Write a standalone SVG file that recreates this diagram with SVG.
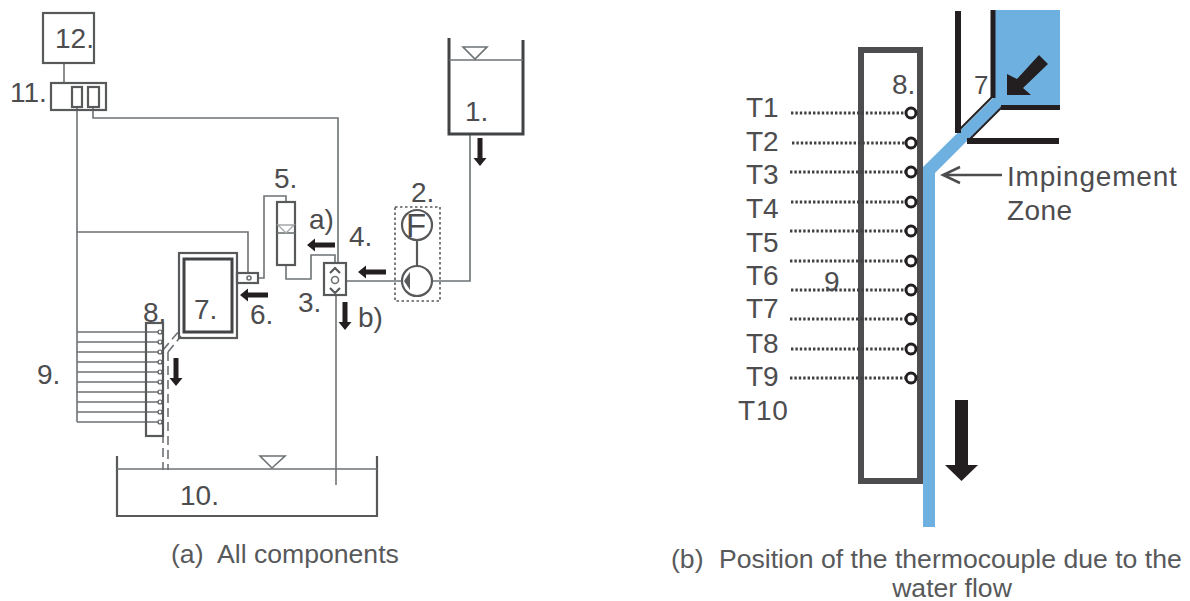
<svg xmlns="http://www.w3.org/2000/svg" width="1190" height="601" viewBox="0 0 1190 601">
<style>
text{font-family:"Liberation Sans",Arial,sans-serif;fill:#4d4d4f}
.l{font-size:28px}
.t{font-size:28px}
.c{font-size:26.600px;fill:#58595b}
.w{fill:none;stroke:#6d7274;stroke-width:1.600}
.b{fill:none;stroke:#58595b;stroke-width:2.200}
.k{fill:none;stroke:#414345;stroke-width:3}
.n{fill:none;stroke:#231f20}
.d{fill:none;stroke:#6d7274;stroke-width:1.600;stroke-dasharray:9 5}
.dot{fill:none;stroke:#414042;stroke-width:2.800;stroke-dasharray:2.400 2}
.tc{fill:#fff;stroke:#231f20;stroke-width:3}
.a{fill:#231f20}
</style>
<defs>
<path id="dn" class="a" d="M-2.500,0H2.500V20H6.500L0,28L-6.500,20H-2.500Z"/>
<path id="lf" class="a" d="M0,0L8,-6.500V-2.500H28V2.500H8V6.500Z"/>
</defs>
<g id="connectors">
<path class="w" d="M64,63V83"/>
<path class="w" d="M77,107V422"/>
<path class="w" d="M93,107V118H338V263"/>
<path class="w" d="M77,232H248V273"/>
<path class="w" d="M258,278H264V196H286V202"/>
<path class="w" d="M286,265V279H311V255H335V263"/>
<path class="w" d="M336,295V485"/>
<path class="w" d="M346,281H402"/>
<path class="w" d="M432,281H470V134"/>
<path class="w" d="M77,332H160M77,342H160M77,352H160M77,362H160M77,372H160M77,382H160M77,392H160M77,402H160M77,412H160M77,422H160"/>
<path class="d" d="M163,350L179,331"/>
<path class="d" d="M168,352L181,336"/>
<path class="d" d="M163,350V470"/>
<path class="d" d="M168,352V470"/>
<use href="#dn" x="480" y="138"/>
<use href="#lf" x="307" y="245"/>
<use href="#lf" x="358" y="272"/>
<use href="#dn" x="345" y="302"/>
<use href="#lf" x="240" y="295"/>
<use href="#dn" x="176" y="358"/>
</g>
<g id="node-12"><rect class="b" x="43" y="13" width="51" height="50"/><text class="l" x="55" y="48">12.</text></g>
<g id="node-11"><rect class="b" x="51" y="83" width="55" height="27"/><rect class="b" x="72" y="87" width="10" height="20"/><rect class="b" x="88" y="87" width="11" height="20"/><text class="l" x="10" y="102">11.</text></g>
<g id="node-1"><path class="k" d="M449,38V134H523V40"/><path class="w" d="M449,60H523"/><path class="w" d="M463,47H487L475,59Z"/><text class="l" x="465" y="121">1.</text></g>
<g id="node-2"><rect x="395" y="207" width="45" height="94" fill="none" stroke="#58595b" stroke-width="1.600" stroke-dasharray="2.500 2.500"/><circle class="b" cx="417" cy="225" r="15"/><text x="406" y="237" style="font-size:33px">F</text><path class="b" d="M417,240V266"/><circle class="b" cx="417" cy="281" r="15"/><path d="M404,281L410,272V290Z" fill="#58595b"/><text class="l" x="411" y="202">2.</text></g>
<g id="node-3"><rect class="b" x="324" y="263" width="22" height="32"/><circle class="w" cx="335" cy="280" r="3.500"/><path class="b" d="M330,273L335,268L340,273M330,288L335,293L340,288"/><text class="l" x="298" y="312">3.</text></g>
<g id="node-4"><text class="l" x="349" y="246">4.</text></g>
<g id="node-5"><rect class="b" x="277" y="202" width="18" height="63"/><path class="w" d="M277,233H295"/><path d="M278,225H294L286,233Z" fill="none" stroke="#a5a7a8" stroke-width="1.400"/><text class="l" x="274" y="188">5.</text></g>
<g id="node-6"><rect class="b" x="237" y="273" width="21" height="10"/><circle class="w" cx="249" cy="278" r="2"/><text class="l" x="250" y="324">6.</text></g>
<g id="node-7"><rect class="b" x="179" y="253" width="58" height="85"/><rect class="k" x="184" y="259" width="48" height="73"/><text class="l" x="194" y="319">7.</text></g>
<g id="node-8"><rect class="b" x="146" y="323" width="17" height="113"/><g fill="#fff" stroke="#58595b" stroke-width="1.200"><circle cx="160" cy="332" r="2"/><circle cx="160" cy="342" r="2"/><circle cx="160" cy="352" r="2"/><circle cx="160" cy="362" r="2"/><circle cx="160" cy="372" r="2"/><circle cx="160" cy="382" r="2"/><circle cx="160" cy="392" r="2"/><circle cx="160" cy="402" r="2"/><circle cx="160" cy="412" r="2"/><circle cx="160" cy="422" r="2"/></g><text class="l" x="143" y="322">8.</text></g>
<g id="node-9"><text class="l" x="37" y="384">9.</text></g>
<g id="node-10"><path class="b" d="M117,456V516H377V456"/><path class="w" d="M117,469H377"/><path class="w" d="M260,456H285L272,468Z"/><text class="l" x="180" y="505">10.</text></g>
<text class="l" x="309" y="229">a)</text>
<text class="l" x="358" y="327">b)</text>
<text class="c" y="563"><tspan x="171">(a)</tspan><tspan x="217">All components</tspan></text>
<g id="channel">
<path fill="#6eb1e1" d="M995,10H1060V107H1001L935,173V527H923V167L995,96Z"/>
<path class="n" stroke-width="6" d="M958,11V133"/>
<path class="n" stroke-width="2" d="M958,131L993,96"/>
<path class="n" stroke-width="5" d="M993,10V98"/>
<path class="n" stroke-width="2" d="M968,141L1002,107"/>
<path class="n" stroke-width="5" d="M1001,107.500H1060"/>
<path class="n" stroke-width="6" d="M967,141H1059"/>
<path class="a" d="M1039,55L1048,64L1023,88L1031,95H1007V74L1017,79Z"/>
<text x="974" y="94" style="font-size:26px">7</text>
</g>
<g id="plate"><rect x="861" y="50" width="59" height="431" fill="none" stroke="#4d4d4f" stroke-width="6"/><text class="l" x="892" y="94">8.</text></g>
<g id="thermocouples">
<path class="dot" d="M791,113H905M792,143H905M790,172H905M791,202H905M790,231H905M790,261H905M791,290H905M790,319H905M791,349H905M790,378H905"/>
<circle class="tc" cx="911" cy="113" r="5"/><circle class="tc" cx="911" cy="143" r="5"/><circle class="tc" cx="911" cy="172" r="5"/><circle class="tc" cx="911" cy="202" r="5"/><circle class="tc" cx="911" cy="231" r="5"/><circle class="tc" cx="911" cy="261" r="5"/><circle class="tc" cx="911" cy="290" r="5"/><circle class="tc" cx="911" cy="319" r="5"/><circle class="tc" cx="911" cy="349" r="5"/><circle class="tc" cx="911" cy="378" r="5"/>
<text class="t" x="746" y="117">T1</text><text class="t" x="746" y="151">T2</text><text class="t" x="746" y="184">T3</text><text class="t" x="746" y="218">T4</text><text class="t" x="746" y="252">T5</text><text class="t" x="746" y="285">T6</text><text class="t" x="746" y="318">T7</text><text class="t" x="746" y="353">T8</text><text class="t" x="746" y="386">T9</text><text class="t" x="738" y="420" style="letter-spacing:.8px">T10</text>
<text class="t" x="824" y="291">9</text>
</g>
<path d="M1002,175H943M960,167L943,175L960,183" fill="none" stroke="#4d4d4f" stroke-width="2.500"/>
<text class="t" x="1007" y="186" style="letter-spacing:.8px">Impingement</text>
<text class="t" x="1007" y="220" style="letter-spacing:.4px">Zone</text>
<path class="a" d="M955,400H968V465H978L961.500,481L945,465H955Z"/>
<text class="c" y="568"><tspan x="671">(b)</tspan><tspan x="719">Position of the thermocouple due to the</tspan></text>
<text class="c" x="952" y="597" text-anchor="middle">water flow</text>
</svg>
